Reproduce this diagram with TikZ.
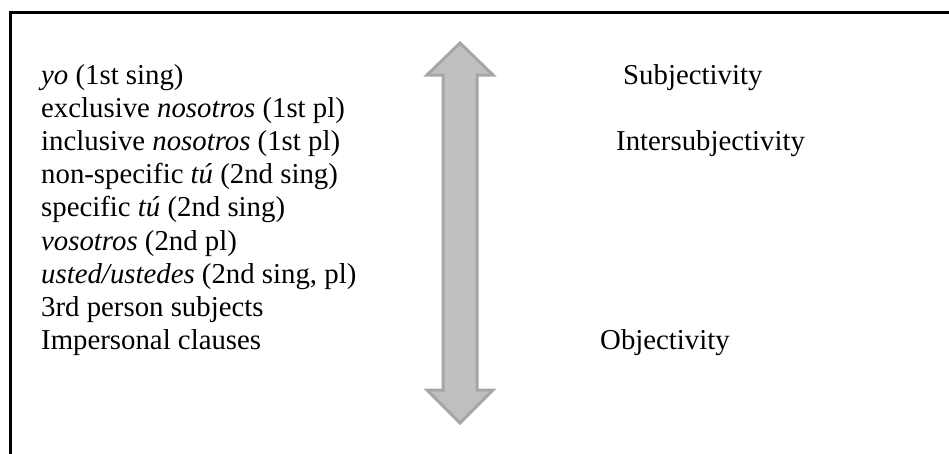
\documentclass[tikz,border=0pt]{standalone}
\usepackage{fontspec}
\setmainfont{Liberation Serif}
\definecolor{arrfill}{HTML}{C0C0C0}
\definecolor{arrline}{HTML}{A6A6A6}
\begin{document}
\begin{tikzpicture}[x=1pt,y=-1pt,
  lbl/.style={anchor=base west,inner sep=0pt,font=\fontsize{28.8}{33.2}\selectfont},
  frame/.style={line width=3pt,black},
  bigarrow/.style={fill=arrfill,draw=arrline,line width=3pt,line join=miter}]
\useasboundingbox (0,0) rectangle (949,453);
\draw[frame] (10.5,470) -- (10.5,12.5) -- (960,12.5);
\draw[bigarrow] (460,43) -- (493,75) -- (477,75) -- (477,390) -- (493,390) -- (460,423)
  -- (427,390) -- (443,390) -- (443,75) -- (427,75) -- cycle;
\node[lbl] (l1) at (41,84) {\textit{yo} (1st sing)};
\node[lbl] (l2) at (41,117.2) {exclusive \textit{nosotros} (1st pl)};
\node[lbl] (l3) at (41,150.4) {inclusive \textit{nosotros} (1st pl)};
\node[lbl] (l4) at (41,183.6) {non-specific \textit{tú} (2nd sing)};
\node[lbl] (l5) at (41,216.8) {specific \textit{tú} (2nd sing)};
\node[lbl] (l6) at (41,250) {\textit{vosotros} (2nd pl)};
\node[lbl] (l7) at (41,283.2) {\textit{usted/ustedes} (2nd sing, pl)};
\node[lbl] (l8) at (41,316.4) {3rd person subjects};
\node[lbl] (l9) at (41,349.6) {Impersonal clauses};
\node[lbl] (r1) at (623,84) {Subjectivity};
\node[lbl] (r2) at (616,150.4) {Intersubjectivity};
\node[lbl] (r3) at (600,349.6) {Objectivity};
\end{tikzpicture}
\end{document}
